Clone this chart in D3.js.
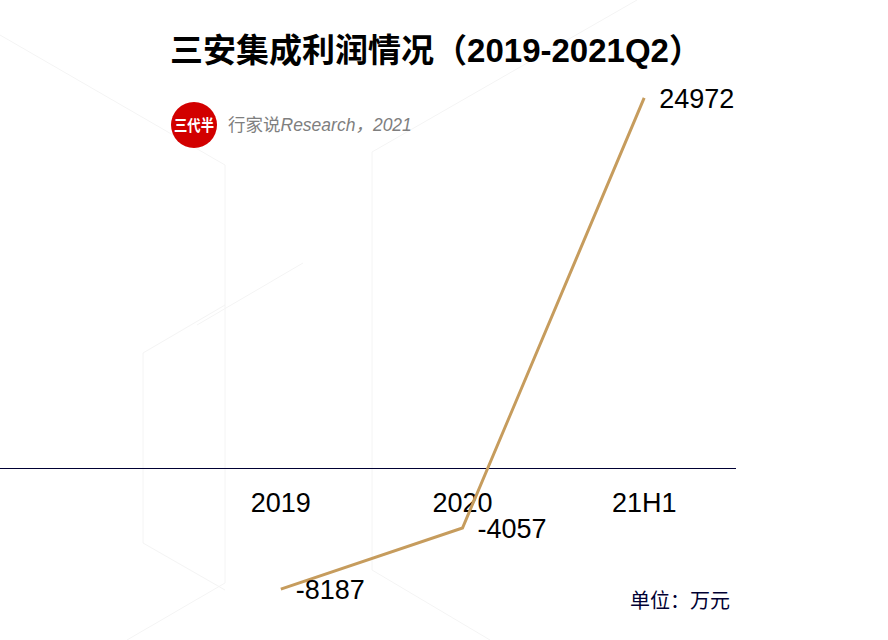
<!DOCTYPE html>
<html>
<head>
<meta charset="utf-8">
<title>三安集成利润情况</title>
<script src="https://d3js.org/d3.v7.min.js"></script>
<style>
  body { margin: 0; background: #fff; }
  svg { display: block; font-family: "Liberation Sans", Arial, "Noto Sans CJK SC", sans-serif; }
</style>
</head>
<body>
<script>
// data
var categories = ["2019", "2020", "21H1"];
var profit = [-8187, -4057, 24972];

var width = 888, height = 640;

var svg = d3.select("body").append("svg")
    .attr("width", width)
    .attr("height", height);

// faint hexagon decoration in the background
var deco = [
  "M0,35 L225,165 L225,583 L127,640",
  "M143,353 L143,543 L225,590",
  "M143,353 L225,305",
  "M372,152 L637,0",
  "M372,152 L372,570 L490,640",
  "M303,263 L197,325"
];
svg.selectAll(".deco")
    .data(deco)
    .enter().append("path")
    .attr("class", "deco")
    .attr("d", d => d)
    .attr("fill", "none")
    .attr("stroke", "#f4f4f4")
    .attr("stroke-width", 1);

// scales
var x = d3.scaleBand()
    .domain(categories)
    .range([190, 735]);

var y = d3.scaleLinear()
    .domain([-10000, 25000])
    .range([616, 97.5]);

var xc = d => x(d) + x.bandwidth() / 2;

// zero line
svg.append("line")
    .attr("x1", 0)
    .attr("x2", 736)
    .attr("y1", Math.round(y(0)) + 0.5)
    .attr("y2", Math.round(y(0)) + 0.5)
    .attr("stroke", "#000033")
    .attr("stroke-width", 1);

// category labels
svg.selectAll(".cat")
    .data(categories)
    .enter().append("text")
    .attr("class", "cat")
    .attr("x", d => xc(d))
    .attr("y", 512)
    .attr("text-anchor", "middle")
    .attr("font-size", 27)
    .attr("fill", "#000")
    .text(d => d);

// line
var line = d3.line()
    .x((d, i) => xc(categories[i]))
    .y(d => y(d));

svg.append("path")
    .datum(profit)
    .attr("d", line)
    .attr("fill", "none")
    .attr("stroke", "#c69c5d")
    .attr("stroke-width", 3);

// value labels
svg.selectAll(".val")
    .data(profit)
    .enter().append("text")
    .attr("class", "val")
    .attr("x", (d, i) => xc(categories[i]) + 15)
    .attr("y", d => y(d) + 10)
    .attr("font-size", 27)
    .attr("fill", "#000")
    .text(d => d);

// title
svg.append("text")
    .attr("x", 436)
    .attr("y", 62)
    .attr("text-anchor", "middle")
    .attr("font-size", 33)
    .attr("font-weight", "bold")
    .attr("fill", "#000")
    .text("三安集成利润情况（2019-2021Q2）");

// logo + source
svg.append("circle")
    .attr("cx", 194)
    .attr("cy", 125)
    .attr("r", 23)
    .attr("fill", "#d20000");

svg.append("text")
    .attr("x", 194)
    .attr("y", 131)
    .attr("text-anchor", "middle")
    .attr("font-size", 16)
    .attr("font-weight", "bold")
    .attr("fill", "#fff")
    .attr("textLength", 40)
    .attr("lengthAdjust", "spacingAndGlyphs")
    .text("三代半");

var src = svg.append("text")
    .attr("x", 228)
    .attr("y", 131)
    .attr("font-size", 17.5)
    .attr("fill", "#7f7f7f");
src.append("tspan").text("行家说");
src.append("tspan").attr("font-style", "italic").text("Research，2021");

// unit
svg.append("text")
    .attr("x", 730)
    .attr("y", 608)
    .attr("text-anchor", "end")
    .attr("font-size", 20)
    .attr("fill", "#000033")
    .text("单位：万元");
</script>
</body>
</html>
